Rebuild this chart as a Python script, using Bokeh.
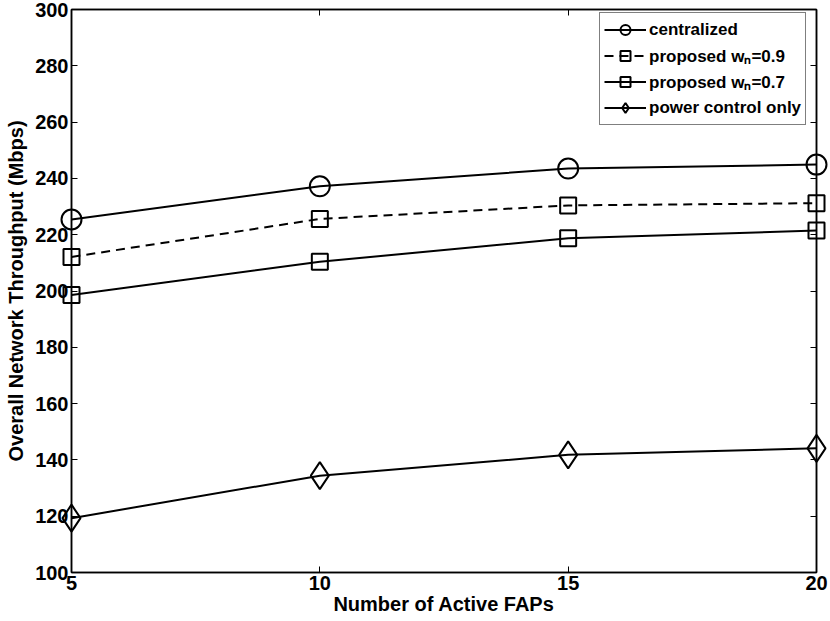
from bokeh.plotting import figure
from bokeh.models import LinearAxis, Legend, LegendItem, FixedTicker, Range1d
from bokeh.embed import file_html
from bokeh.resources import INLINE

# Data
fap_counts = [5, 10, 15, 20]
centralized = [225.4, 237.2, 243.5, 244.9]
proposed_09 = [212.1, 225.6, 230.4, 231.2]
proposed_07 = [198.6, 210.4, 218.7, 221.5]
power_control = [119.3, 134.4, 141.8, 144.1]
x_ticks = [5, 10, 15, 20]
y_ticks = [100, 120, 140, 160, 180, 200, 220, 240, 260, 280, 300]
labels = ["centralized", "proposed w\u2099=0.9", "proposed w\u2099=0.7", "power control only"]

FONT = "Liberation Sans"

p = figure(width=830, height=621, output_backend="svg", toolbar_location=None,
           x_range=Range1d(5, 20), y_range=Range1d(100, 300),
           min_border_left=71, min_border_right=14, min_border_top=9, min_border_bottom=49)
p.grid.visible = False
p.outline_line_color = "black"
p.outline_line_width = 1.5
p.background_fill_color = "white"
p.border_fill_color = "white"

for ax in [p.xaxis[0], p.yaxis[0]]:
    ax.major_tick_in = 6
    ax.major_tick_out = 0
    ax.minor_tick_in = 0
    ax.minor_tick_out = 0
    ax.axis_line_width = 1.5
    ax.major_tick_line_width = 1
    ax.major_label_text_font = FONT
    ax.major_label_text_font_style = "bold"
    ax.major_label_text_font_size = "20px"
    ax.major_label_text_color = "black"
    ax.axis_label_text_font = FONT
    ax.axis_label_text_font_style = "bold"
    ax.axis_label_text_font_size = "20px"
    ax.axis_label_text_color = "black"

p.xaxis[0].ticker = FixedTicker(ticks=x_ticks)
p.yaxis[0].ticker = FixedTicker(ticks=y_ticks)
p.xaxis[0].major_label_standoff = 3
p.yaxis[0].major_label_standoff = 3
p.xaxis[0].axis_label = "Number of Active FAPs"
p.yaxis[0].axis_label = "Overall Network Throughput (Mbps)"
p.xaxis[0].axis_label_standoff = 0
p.yaxis[0].axis_label_standoff = 5

# mirrored box ticks (no labels)
top = LinearAxis(ticker=FixedTicker(ticks=x_ticks),
                 major_label_overrides={t: "" for t in x_ticks},
                 major_tick_in=6, major_tick_out=0, minor_tick_in=0, minor_tick_out=0,
                 major_label_standoff=0, axis_line_width=1.5)
right = LinearAxis(ticker=FixedTicker(ticks=y_ticks),
                   major_label_overrides={t: "" for t in y_ticks},
                   major_tick_in=6, major_tick_out=0, minor_tick_in=0, minor_tick_out=0,
                   major_label_standoff=0, axis_line_width=1.5)
p.add_layout(top, "above")
p.add_layout(right, "right")

lw = 2
r1l = p.line(fap_counts, centralized, line_color="black", line_width=lw)
r1m = p.scatter(fap_counts, centralized, marker="circle", size=20, line_color="black",
                line_width=lw, fill_alpha=0, level="overlay")
r2l = p.line(fap_counts, proposed_09, line_color="black", line_width=lw, line_dash="9 6")
r2m = p.scatter(fap_counts, proposed_09, marker="square", size=16, line_color="black",
                line_width=lw, fill_alpha=0, level="overlay")
r3l = p.line(fap_counts, proposed_07, line_color="black", line_width=lw)
r3m = p.scatter(fap_counts, proposed_07, marker="square", size=16, line_color="black",
                line_width=lw, fill_alpha=0, level="overlay")
r4l = p.line(fap_counts, power_control, line_color="black", line_width=lw)
r4m = p.scatter(fap_counts, power_control, marker="diamond", size=27, line_color="black",
                line_width=lw, fill_alpha=0, level="overlay")

legend = Legend(items=[
    LegendItem(label=labels[0], renderers=[r1l, r1m]),
    LegendItem(label=labels[1], renderers=[r2l, r2m]),
    LegendItem(label=labels[2], renderers=[r3l, r3m]),
    LegendItem(label=labels[3], renderers=[r4l, r4m]),
], location=(528, 447))
legend.label_text_font = FONT
legend.label_text_font_style = "bold"
legend.label_text_font_size = "17px"
legend.label_text_color = "black"
legend.glyph_width = 42
legend.glyph_height = 25
legend.label_height = 25
legend.spacing = 1
legend.padding = 4
legend.label_standoff = 3
legend.margin = 0
legend.border_line_color = "black"
legend.border_line_width = 1
legend.background_fill_alpha = 1
p.add_layout(legend)

open("out.html", "w").write(file_html(p, INLINE))
